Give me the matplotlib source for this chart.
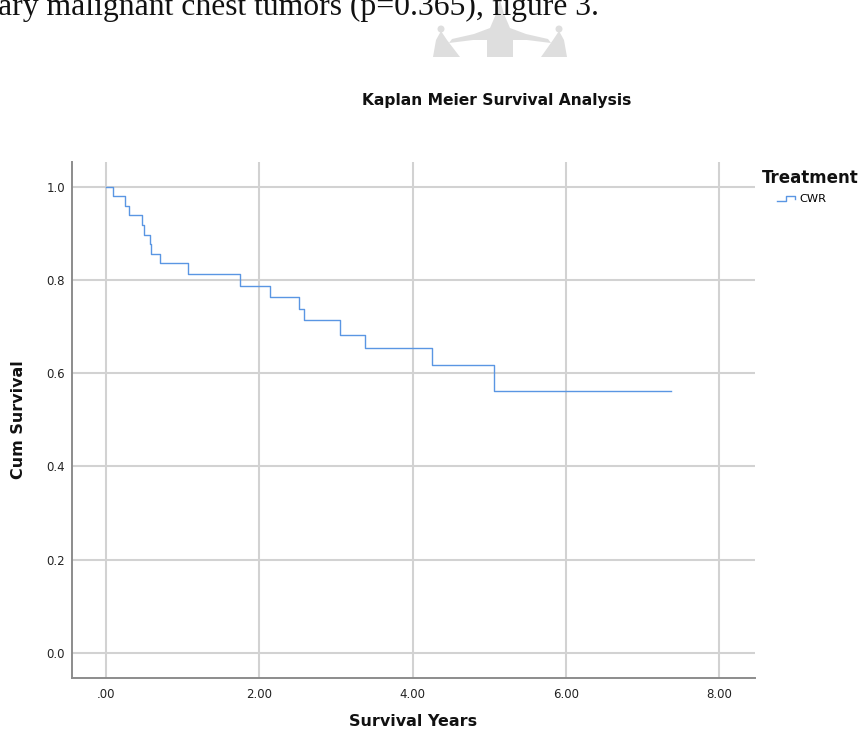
import matplotlib
matplotlib.use("Agg")
import matplotlib.pyplot as plt
import matplotlib.transforms as mtransforms
from matplotlib.patches import Polygon, Circle
from matplotlib.lines import Line2D
from matplotlib.legend_handler import HandlerLine2D

# ---- data ----
times = [0.0, 0.087, 0.248, 0.300, 0.474, 0.491, 0.574, 0.587, 0.700,
         1.069, 1.751, 2.140, 2.520, 2.590, 3.060, 3.380, 4.250, 5.070, 7.380]
survival = [1.000, 0.979, 0.959, 0.939, 0.918, 0.897, 0.877, 0.856, 0.836,
            0.812, 0.788, 0.763, 0.738, 0.713, 0.682, 0.653, 0.617, 0.561, 0.561]
group_name = "CWR"
x_ticks = [0, 2, 4, 6, 8]
x_tick_labels = [".00", "2.00", "4.00", "6.00", "8.00"]
y_ticks = [0.0, 0.2, 0.4, 0.6, 0.8, 1.0]
y_tick_labels = ["0.0", "0.2", "0.4", "0.6", "0.8", "1.0"]

W, H = 864, 734
fig = plt.figure(figsize=(W / 100, H / 100), dpi=100)
px = mtransforms.Affine2D().scale(1 / W, -1 / H).translate(0, 1) + fig.transFigure

# ---- page text and watermark above the chart ----
wm = "#dedede"
central = [(500, 0), (504, 14), (510, 28), (526, 34), (548, 39), (551, 43),
           (527, 40), (513, 40), (513, 57), (487, 57), (487, 40), (473, 40),
           (449, 43), (452, 39), (474, 34), (490, 28), (496, 14)]
left_bell = [(441, 31), (447, 40), (460, 57), (433, 57), (436, 40)]
right_bell = [(559, 31), (564, 40), (567, 57), (541, 57), (553, 40)]
for poly in (central, left_bell, right_bell):
    fig.patches.append(Polygon(poly, closed=True, transform=px, facecolor=wm,
                               edgecolor="none", zorder=0))
for cx in (441, 559):
    fig.patches.append(Circle((cx, 29), 3.5, transform=px, facecolor=wm,
                              edgecolor="none", zorder=0))
fig.text(-2, 15, "ary malignant chest tumors (p=0.365), figure 3.",
         transform=px, family="Liberation Serif", fontsize=22.8,
         ha="left", va="baseline", color="#111111", zorder=2)

# ---- axes ----
ax = fig.add_axes([72 / W, 1 - 678 / H, (755 - 72) / W, (678 - 162) / H])
ax.set_xlim(-0.444, 8.47)
ax.set_ylim(-0.054, 1.053)

grid_c = "#d2d2d2"
for t in x_ticks:
    ax.axvline(t, color=grid_c, lw=1.5, zorder=1)
for t in y_ticks:
    ax.axhline(t, color=grid_c, lw=1.5, zorder=1)

line_c = "#5a96e3"
ax.step(times, survival, where="post", color=line_c, lw=1.0, zorder=3,
        label=group_name)

for s in ("top", "right"):
    ax.spines[s].set_visible(False)
for s in ("left", "bottom"):
    ax.spines[s].set_color("#8c8c8c")
    ax.spines[s].set_linewidth(1.4)

font = "DejaVu Sans"
ax.set_xticks(x_ticks)
ax.set_xticklabels(x_tick_labels, family=font, fontsize=8.5, color="#222222")
ax.set_yticks(y_ticks)
ax.set_yticklabels(y_tick_labels, family=font, fontsize=8.5, color="#222222")
ax.tick_params(axis="y", length=0, pad=5)
ax.tick_params(axis="x", length=0, pad=7)

fig.text(413, 721, "Survival Years", transform=px, family=font,
         fontweight="bold", fontsize=11.5, ha="center", va="center",
         color="#111111")
fig.text(19, 420, "Cum Survival", transform=px, family=font,
         fontweight="bold", fontsize=11.5, ha="center", va="center",
         rotation=90, color="#111111")
fig.text(497, 101, "Kaplan Meier Survival Analysis", transform=px,
         family=font, fontweight="bold", fontsize=11.2,
         ha="center", va="center", color="#111111")


# ---- legend with a step-shaped glyph ----
class StepHandler(HandlerLine2D):
    def create_artists(self, legend, orig_handle, xdescent, ydescent,
                       width, height, fontsize, trans):
        x0, x1 = -xdescent, -xdescent + width
        y0, y1 = -ydescent + height * 0.1, -ydescent + height * 0.75
        xm = x0 + 0.5 * width
        xs = [x0, xm, xm, x1, x1]
        ys = [y0, y0, y1, y1, y0 + (y1 - y0) * 0.45]
        ln = Line2D(xs, ys, color=orig_handle.get_color(), lw=1.0)
        ln.set_transform(trans)
        return [ln]


handles, labels = ax.get_legend_handles_labels()
leg = fig.legend(handles, labels, loc="center left",
                 bbox_to_anchor=(777 / W, 1 - 199 / H),
                 frameon=False, handler_map={handles[0]: StepHandler()},
                 handlelength=1.6, handletextpad=0.35, borderpad=0,
                 borderaxespad=0,
                 prop={"family": font, "size": 8.2})
fig.text(762, 178, "Treatment", transform=px, family=font,
         fontweight="bold", fontsize=12, ha="left", va="center",
         color="#111111")

fig.savefig("out.png", dpi=100)
